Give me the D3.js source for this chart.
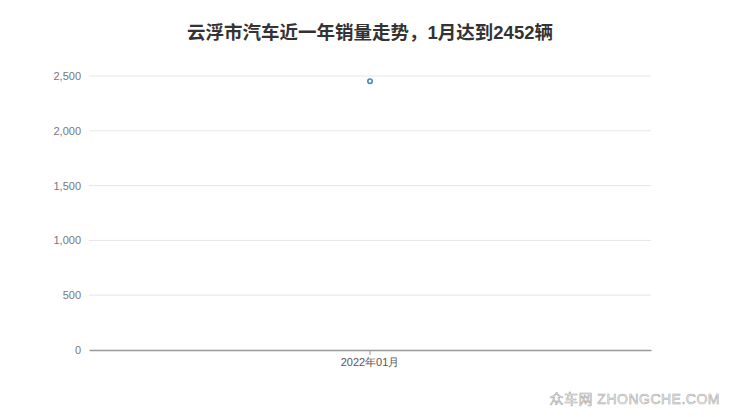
<!DOCTYPE html>
<html>
<head>
<meta charset="utf-8">
<script src="https://cdn.jsdelivr.net/npm/d3@7"></script>
<style>
  body { margin: 0; background: #fff; }
  svg { display: block; font-family: "Liberation Sans", "Noto Sans CJK SC", sans-serif; }
</style>
</head>
<body>
<div id="chart"></div>
<script>
// chart data
var months = ["2022年01月"];
var sales = [2452];
var yTicks = [0, 500, 1000, 1500, 2000, 2500];
var title = "云浮市汽车近一年销量走势，1月达到2452辆";

var W = 740, H = 417;
var margin = {top: 76, right: 89, bottom: 67, left: 89};
var width = W - margin.left - margin.right,
    height = H - margin.top - margin.bottom;

var svg = d3.select("#chart").append("svg")
    .attr("width", W)
    .attr("height", H);

svg.append("text")
    .attr("x", W / 2)
    .attr("y", 39)
    .attr("text-anchor", "middle")
    .style("font-size", "18.5px")
    .style("font-weight", "bold")
    .attr("fill", "#333")
    .text(title);

var g = svg.append("g")
    .attr("transform", "translate(" + margin.left + "," + margin.top + ")");

var x = d3.scaleBand()
    .domain(months)
    .range([0, width]);

var y = d3.scaleLinear()
    .domain([0, 2500])
    .range([height, 0]);

// gridlines
g.append("g")
    .selectAll("line")
    .data(yTicks.filter(function (d) { return d > 0; }))
    .enter().append("line")
    .attr("x1", 0)
    .attr("x2", width)
    .attr("y1", function (d) { return y(d); })
    .attr("y2", function (d) { return y(d); })
    .attr("stroke", "#e6e6e6")
    .attr("stroke-width", 1);

// y axis labels
var yAxis = g.append("g")
    .call(d3.axisLeft(y).tickValues(yTicks).tickFormat(d3.format(",")).tickSize(0).tickPadding(8));
yAxis.select(".domain").remove();
yAxis.selectAll("text")
    .attr("fill", "#777")
    .style("font-size", "11px");

// x axis
var xAxis = g.append("g")
    .attr("transform", "translate(0," + height + ")")
    .call(d3.axisBottom(x).tickSize(5).tickPadding(3).tickSizeOuter(0));
xAxis.select(".domain").attr("stroke", "#999").attr("stroke-width", 1.5);
xAxis.selectAll(".tick line").attr("stroke", "#999");
xAxis.selectAll("text")
    .attr("fill", "#555")
    .style("font-size", "11px");

// points
g.selectAll(".pt")
    .data(sales)
    .enter().append("circle")
    .attr("class", "pt")
    .attr("cx", function (d, i) { return x(months[i]) + x.bandwidth() / 2; })
    .attr("cy", function (d) { return y(d); })
    .attr("r", 2.2)
    .attr("fill", "#fff")
    .attr("stroke", "#3a8ac9")
    .attr("stroke-width", 1.6);

// watermark
svg.append("text")
    .attr("x", 720)
    .attr("y", 404)
    .attr("text-anchor", "end")
    .style("font-size", "14px")
    .attr("fill", "#fff")
    .attr("stroke", "#aaa")
    .attr("stroke-width", 0.6)
    .style("letter-spacing", "0.5px")
    .text("众车网 ZHONGCHE.COM");
</script>
</body>
</html>
